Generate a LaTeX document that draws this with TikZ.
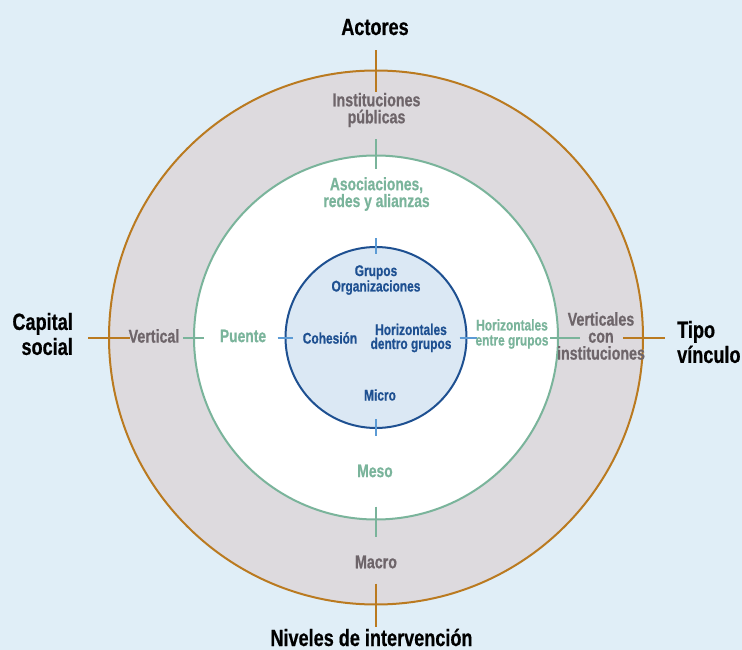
\documentclass[tikz,border=0pt]{standalone}
\usepackage{fontspec}
\setmainfont{Liberation Sans}[FakeStretch=0.77, BoldFeatures={FakeBold=0.6}]
\usetikzlibrary{positioning}

\definecolor{fondo}{RGB}{224,238,247}
\definecolor{anillo}{RGB}{221,218,222}
\definecolor{naranja}{RGB}{186,122,32}
\definecolor{verde}{RGB}{122,180,155}
\definecolor{azul}{RGB}{30,80,145}
\definecolor{azulclaro}{RGB}{219,232,244}
\definecolor{marca}{RGB}{92,155,213}
\definecolor{gris}{RGB}{110,101,106}

\tikzset{
  ring/.style={circle, outer sep=0pt, inner sep=0pt, line width=2pt},
  tick/.style={line width=2pt},
  eje/.style={font=\fontsize{23.5}{25}\selectfont\bfseries, text=black, inner sep=0pt},
  macro/.style={font=\fontsize{18.5}{17}\selectfont\bfseries, text=gris, align=center, inner sep=0pt},
  meso/.style={font=\fontsize{18}{15}\selectfont\bfseries, text=verde, align=center, inner sep=0pt},
  micro/.style={font=\fontsize{15.5}{14}\selectfont\bfseries, text=azul, align=center, inner sep=0pt}
}

\begin{document}
\begin{tikzpicture}[x=1pt, y=-1pt]
  \fill[fondo] (0,0) rectangle (742,650);
  \useasboundingbox (0,0) rectangle (742,650);

  % the three rings
  \node (externo) [ring, draw=naranja, fill=anillo, minimum size=534pt] at (376,337.5) {};
  \node (medio)   [ring, draw=verde, fill=white, minimum size=364pt]    at (376,337.5) {};
  \node (interno) [ring, draw=azul, fill=azulclaro, minimum size=181pt] at (376,337.5) {};

  % ticks
  \draw[tick, naranja] (externo.north) ++(0,-20) -- ++(0,42);
  \draw[tick, naranja] (externo.south) ++(0,-21) -- ++(0,43);
  \draw[tick, naranja] (externo.west)  ++(-21,0) -- ++(42,0);
  \draw[tick, naranja] (externo.east)  ++(-20,0) -- ++(42,0);

  \draw[tick, verde] (medio.north) ++(0,-16) -- ++(0,30);
  \draw[tick, verde] (medio.south) ++(0,-13) -- ++(0,30);
  \draw[tick, verde] (medio.west)  ++(-11,0) -- ++(21,0);
  \draw[tick, verde] (medio.east)  ++(-8,0)  -- ++(30,0);

  \draw[tick, marca] (interno.north) ++(0,-9) -- ++(0,16);
  \draw[tick, marca] (interno.south) ++(0,-9) -- ++(0,17);
  \draw[tick, marca] (interno.west)  ++(-8,0) -- ++(15,0);
  \draw[tick, marca] (interno.east)  ++(-7,0) -- ++(17,0);

  % axis titles
  \node (actores) [eje, anchor=base] at (375,35) {Actores};
  \node (niveles) [eje, anchor=base] at (371.5,646) {Niveles de intervención};
  \node (capital) [eje, align=right, anchor=east] at (73,334) {Capital\\social};
  \node (tipo)    [eje, align=left, anchor=west] at (677,342) {Tipo\\vínculo};

  % outer ring
  \node (instituciones) [macro] at (376.5,110) {Instituciones\\públicas};
  \node (vertical)      [macro] at (154,336) {Vertical};
  \node (verticales)    [macro] at (601,336) {Verticales\\con\\instituciones};
  \node (macro)         [macro] at (376,562) {Macro};

  % middle ring
  \node (asociaciones) [meso] at (376.5,194) {Asociaciones,\\redes y alianzas};
  \node (puente)       [meso] at (243,336) {Puente};
  \node (entre)        [meso, font=\fontsize{15.5}{15}\selectfont\bfseries] at (512,334) {Horizontales\\entre grupos};
  \node (meso)         [meso] at (375,471) {Meso};

  % inner circle
  \node (grupos)    [micro] at (376,280) {Grupos\\Organizaciones};
  \node (cohesion)  [micro] at (330,338) {Cohesión};
  \node (dentro)    [micro] at (411,338) {Horizontales\\dentro grupos};
  \node (micro)     [micro] at (380,395) {Micro};
\end{tikzpicture}
\end{document}
